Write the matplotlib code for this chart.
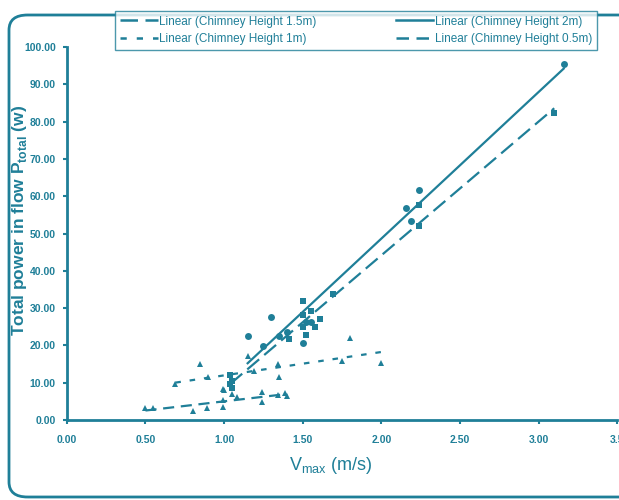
import numpy as np
import matplotlib
matplotlib.use("Agg")
import matplotlib.pyplot as plt
import matplotlib.patches as mpatches
from matplotlib.lines import Line2D

TEAL = "#1f7f98"
plt.rcParams["font.family"] = ["Liberation Sans", "DejaVu Sans"]

# ── data ──
x_2m = [1.15, 1.25, 1.30, 1.35, 1.40, 1.50, 1.52, 1.55, 2.16, 2.19, 2.24, 3.16]
y_2m = [22.5, 19.8, 27.6, 22.5, 23.6, 20.6, 26.3, 26.3, 56.8, 53.4, 61.7, 95.4]

x_15m = [1.04, 1.04, 1.05, 1.05, 1.41, 1.50, 1.50, 1.50, 1.52, 1.55, 1.58, 1.61, 1.69, 2.24, 2.24, 3.10]
y_15m = [9.7, 12.1, 10.5, 8.5, 21.7, 31.9, 28.2, 24.9, 22.8, 29.2, 25.0, 27.1, 33.8, 57.6, 52.0, 82.3]

x_1m = [0.69, 0.85, 0.90, 0.99, 1.00, 1.15, 1.19, 1.34, 1.35, 1.75, 1.80, 2.00]
y_1m = [9.6, 15.0, 11.5, 8.3, 8.0, 17.2, 13.2, 15.0, 11.5, 15.9, 22.0, 15.2]

x_05m = [0.50, 0.55, 0.80, 0.89, 0.99, 0.99, 1.05, 1.08, 1.24, 1.24, 1.34, 1.39, 1.40]
y_05m = [3.3, 3.2, 2.5, 3.3, 3.5, 5.4, 7.0, 6.2, 7.5, 4.9, 6.7, 7.3, 6.5]

series = [
    # label, x, y, marker, msize, dashes
    ("Linear (Chimney Height 1.5m)", x_15m, y_15m, "s", 5, (7, 3)),
    ("Linear (Chimney Height 1m)", x_1m, y_1m, "^", 4, (2.5, 4)),
    ("Linear (Chimney Height 2m)", x_2m, y_2m, "o", 5, None),
    ("Linear (Chimney Height 0.5m)", x_05m, y_05m, "^", 4, (5, 3)),
]

fig = plt.figure(figsize=(6.19, 5.0), dpi=100)
ax = fig.add_axes([0.108, 0.16, 0.889, 0.746])

handles = []
for label, xs, ys, mk, ms, dash in series:
    xs = np.array(xs)
    ys = np.array(ys)
    ax.plot(xs, ys, linestyle="none", marker=mk, markersize=ms,
            color=TEAL, markeredgewidth=0, zorder=3)
    # Excel-style linear trendline over the data range
    k, b = np.polyfit(xs, ys, 1)
    xx = np.array([xs.min(), xs.max()])
    ln, = ax.plot(xx, k * xx + b, color=TEAL, lw=1.6, zorder=2)
    h = Line2D([], [], color=TEAL, lw=1.8)
    if dash is not None:
        ln.set_dashes(dash)
        h.set_dashes(dash)
    handles.append((h, label))

ticks_x = np.arange(0, 3.51, 0.5)
ticks_y = np.arange(0, 100.1, 10)
ax.set_xlim(0, 3.5)
ax.set_ylim(0, 100)
ax.set_xticks(ticks_x)
ax.set_yticks(ticks_y)
ax.set_xticklabels([f"{v:.2f}" if v < 3.5 else "3.5" for v in ticks_x])
ax.set_yticklabels([f"{v:.2f}" for v in ticks_y])

for s in ["top", "right"]:
    ax.spines[s].set_visible(False)
for s in ["left", "bottom"]:
    ax.spines[s].set_color(TEAL)
    ax.spines[s].set_linewidth(2)
ax.tick_params(colors=TEAL, labelcolor=TEAL, width=1.5, length=3,
               labelsize=7.5, pad=5)
ax.tick_params(axis="x", pad=8)
for t in ax.get_xticklabels() + ax.get_yticklabels():
    t.set_fontweight("bold")

ax.set_xlabel(r"V$_{\mathregular{max}}$ (m/s)", fontsize=13, color=TEAL)
ax.xaxis.set_label_coords(0.48, -0.095)
ax.set_ylabel(r"Total power in flow P$_{\mathregular{total}}$ (w)", fontsize=12.5,
              color=TEAL, fontweight="bold")
ax.yaxis.set_label_coords(-0.068, 0.536)

leg = fig.legend([h for h, _ in handles], [l for _, l in handles],
                 ncol=2, loc="center", bbox_to_anchor=(0.186, 0.902, 0.778, 0.074),
                 mode="expand", frameon=True, fancybox=False, fontsize=8.5,
                 handlelength=3.2, handletextpad=0.1, labelcolor=TEAL,
                 borderaxespad=0, borderpad=0.4, labelspacing=0.5)
leg.get_frame().set_edgecolor(TEAL)
leg.get_frame().set_linewidth(1.0)

# outer rounded border of the chart area
border = mpatches.FancyBboxPatch((9 / 619, 3 / 500), 1.05, 482 / 500,
                                 boxstyle="round,pad=0,rounding_size=0.03",
                                 transform=fig.transFigure, facecolor="none",
                                 edgecolor=TEAL, linewidth=2, clip_on=False)
fig.patches.append(border)

fig.savefig("out.png", dpi=100)
